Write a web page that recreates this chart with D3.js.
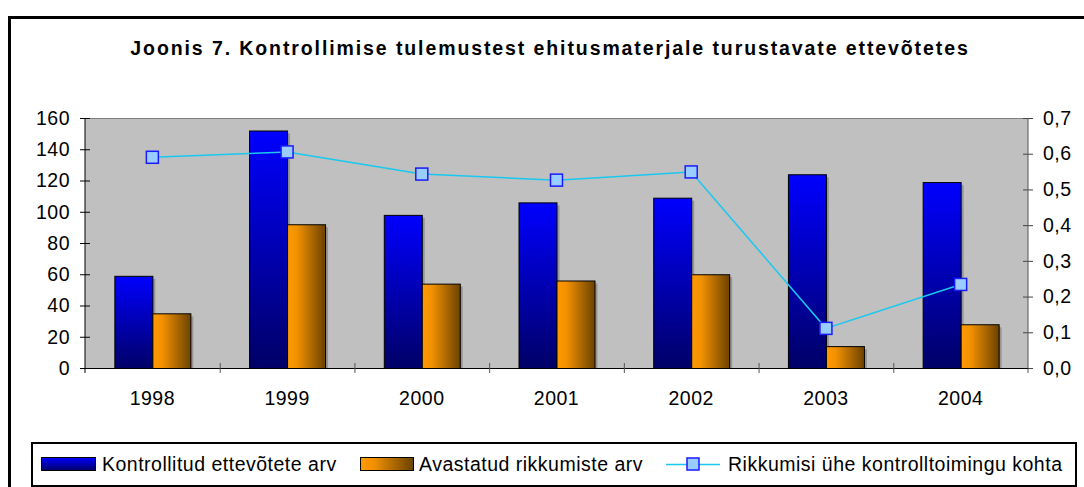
<!DOCTYPE html>
<html>
<head>
<meta charset="utf-8">
<script src="https://cdn.jsdelivr.net/npm/d3@7"></script>
<style>
  body { margin: 0; background: #fff; }
  svg { display: block; font-family: "Liberation Sans", Arial, sans-serif; }
</style>
</head>
<body>
<div id="root"></div>
<script>
// Joonis 7 - kontrollimise tulemused
const years = ["1998", "1999", "2000", "2001", "2002", "2003", "2004"];
const kontrollitud = [59, 152, 98, 106, 109, 124, 119];
const avastatud = [35, 92, 54, 56, 60, 14, 28];
const rikkumisi = [0.59, 0.605, 0.543, 0.526, 0.549, 0.111, 0.234];
const leftTicks = [0, 20, 40, 60, 80, 100, 120, 140, 160];
const rightTicks = [0, 0.1, 0.2, 0.3, 0.4, 0.5, 0.6, 0.7];
const seriesNames = ["Kontrollitud ettevõtete arv", "Avastatud rikkumiste arv", "Rikkumisi ühe kontrolltoimingu kohta"];

const W = 1084, H = 487;
const plot = { left: 85, top: 118, right: 1028, bottom: 368 };

const svg = d3.select("#root").append("svg").attr("width", W).attr("height", H);
const defs = svg.append("defs");

const gBlue = defs.append("linearGradient").attr("id", "gBlue")
  .attr("x1", 0).attr("y1", 0).attr("x2", 0).attr("y2", 1);
gBlue.append("stop").attr("offset", "0%").attr("stop-color", "#0000ff");
gBlue.append("stop").attr("offset", "100%").attr("stop-color", "#000066");

const gOrange = defs.append("linearGradient").attr("id", "gOrange")
  .attr("x1", 0).attr("y1", 0).attr("x2", 1).attr("y2", 0);
gOrange.append("stop").attr("offset", "0%").attr("stop-color", "#ff9900");
gOrange.append("stop").attr("offset", "25%").attr("stop-color", "#f29100");
gOrange.append("stop").attr("offset", "100%").attr("stop-color", "#6b4200");

// outer frame (right/bottom edges fall outside the picture)
svg.append("rect").attr("x", 9.5).attr("y", 17.5).attr("width", 1100).attr("height", 520)
  .attr("fill", "none").attr("stroke", "#000").attr("stroke-width", 3);

svg.append("text")
  .attr("x", 550).attr("y", 55)
  .attr("text-anchor", "middle")
  .style("font-weight", "bold").style("font-size", "19.5px")
  .style("letter-spacing", "1.9px")
  .text("Joonis 7. Kontrollimise tulemustest ehitusmaterjale turustavate ettevõtetes");

const x = d3.scaleBand().domain(years).range([plot.left, plot.right]).padding(0);
const yL = d3.scaleLinear().domain([0, 160]).range([plot.bottom, plot.top]);
const yR = d3.scaleLinear().domain([0, 0.7]).range([plot.bottom, plot.top]);

// plot area
svg.append("rect")
  .attr("x", plot.left).attr("y", plot.top)
  .attr("width", plot.right - plot.left).attr("height", plot.bottom - plot.top)
  .attr("fill", "#c0c0c0");
svg.append("line").attr("x1", plot.left).attr("x2", plot.right)
  .attr("y1", plot.top + 0.5).attr("y2", plot.top + 0.5)
  .attr("stroke", "#808080").attr("stroke-width", 1);

const barW = 38;
const bars = svg.append("g");
years.forEach((yr, i) => {
  const cx = x(yr) + x.bandwidth() / 2;
  const items = [
    { x: cx - barW, v: kontrollitud[i], fill: "url(#gBlue)" },
    { x: cx, v: avastatud[i], fill: "url(#gOrange)" }
  ];
  items.forEach(b => {
    const top = yL(b.v);
    bars.append("rect")
      .attr("x", b.x + 3).attr("y", top + 3)
      .attr("width", barW).attr("height", plot.bottom - top - 3)
      .attr("fill", "#7a7a7a").attr("opacity", 0.6);
  });
  items.forEach(b => {
    const top = yL(b.v);
    bars.append("rect")
      .attr("x", b.x + 0.5).attr("y", top + 0.5)
      .attr("width", barW).attr("height", plot.bottom - top)
      .attr("fill", b.fill).attr("stroke", "#000").attr("stroke-width", 1);
  });
});

// line series
const lineGen = d3.line()
  .x((d, i) => x(years[i]) + x.bandwidth() / 2)
  .y(d => yR(d));
svg.append("path").datum(rikkumisi)
  .attr("d", lineGen)
  .attr("fill", "none").attr("stroke", "#19c8f0").attr("stroke-width", 1.5);
svg.append("g").selectAll("rect").data(rikkumisi).enter().append("rect")
  .attr("x", (d, i) => x(years[i]) + x.bandwidth() / 2 - 6)
  .attr("y", d => yR(d) - 6)
  .attr("width", 12).attr("height", 12)
  .attr("fill", "#99ccff").attr("stroke", "#1a1aff").attr("stroke-width", 1.5);

// axes
const fontSize = "19.5px";
const spacing = "0.5px";
const leftAxis = svg.append("g").attr("transform", `translate(${plot.left},0)`)
  .call(d3.axisLeft(yL).tickValues(leftTicks).tickSize(5).tickPadding(10).tickFormat(d3.format("d")));
leftAxis.selectAll(".tick line").attr("x2", 5).attr("x1", -5);
leftAxis.select(".domain").remove();
leftAxis.append("line").attr("x1", 0).attr("x2", 0).attr("y1", plot.top).attr("y2", plot.bottom + 5)
  .attr("stroke", "#000");

const commaFmt = d => d.toFixed(1).replace(".", ",");
const rightAxis = svg.append("g").attr("transform", `translate(${plot.right},0)`)
  .call(d3.axisRight(yR).tickValues(rightTicks).tickSize(5).tickPadding(10).tickFormat(commaFmt));
rightAxis.selectAll(".tick line").attr("x1", -5).attr("x2", 5).attr("stroke", "#444");
rightAxis.select(".domain").remove();
rightAxis.append("line").attr("x1", 0).attr("x2", 0).attr("y1", plot.top).attr("y2", plot.bottom + 5)
  .attr("stroke", "#555");

const bottomAxis = svg.append("g").attr("transform", `translate(0,${plot.bottom})`)
  .call(d3.axisBottom(x).tickSize(0).tickPadding(23));
bottomAxis.select(".domain").remove();
bottomAxis.append("line").attr("x1", plot.left).attr("x2", plot.right)
  .attr("y1", 0.5).attr("y2", 0.5).attr("stroke", "#000");

[leftAxis, rightAxis, bottomAxis].forEach(a => a.selectAll("text")
  .style("font-size", fontSize).style("letter-spacing", spacing)
  .style("font-family", "Liberation Sans, Arial, sans-serif").attr("fill", "#000"));

// cross ticks at category boundaries
svg.append("g").selectAll("line").data(years.slice(1)).enter().append("line")
  .attr("x1", d => x(d) + 0.5).attr("x2", d => x(d) + 0.5)
  .attr("y1", plot.bottom - 5).attr("y2", plot.bottom + 5)
  .attr("stroke", "#555");

// legend
const lg = svg.append("g");
lg.append("rect").attr("x", 32).attr("y", 443).attr("width", 1044).attr("height", 43)
  .attr("fill", "#fff").attr("stroke", "#000").attr("stroke-width", 2);
const legY = 464;
lg.append("rect").attr("x", 41.5).attr("y", legY - 6.5).attr("width", 54).attr("height", 13)
  .attr("fill", "url(#gBlue)").attr("stroke", "#000").attr("stroke-width", 1);
lg.append("rect").attr("x", 360.5).attr("y", legY - 6.5).attr("width", 53).attr("height", 13)
  .attr("fill", "url(#gOrange)").attr("stroke", "#000").attr("stroke-width", 1);
lg.append("line").attr("x1", 666).attr("x2", 720).attr("y1", legY + 0.5).attr("y2", legY + 0.5)
  .attr("stroke", "#19c8f0").attr("stroke-width", 1.5);
lg.append("rect").attr("x", 687).attr("y", legY - 6).attr("width", 12).attr("height", 12)
  .attr("fill", "#99ccff").attr("stroke", "#1a1aff").attr("stroke-width", 1.5);
lg.selectAll("text.leg").data(seriesNames).enter().append("text")
  .attr("class", "leg")
  .attr("x", (d, i) => [102, 419, 728][i]).attr("y", legY + 7)
  .style("font-size", fontSize).style("letter-spacing", spacing)
  .text(d => d);
</script>
</body>
</html>
